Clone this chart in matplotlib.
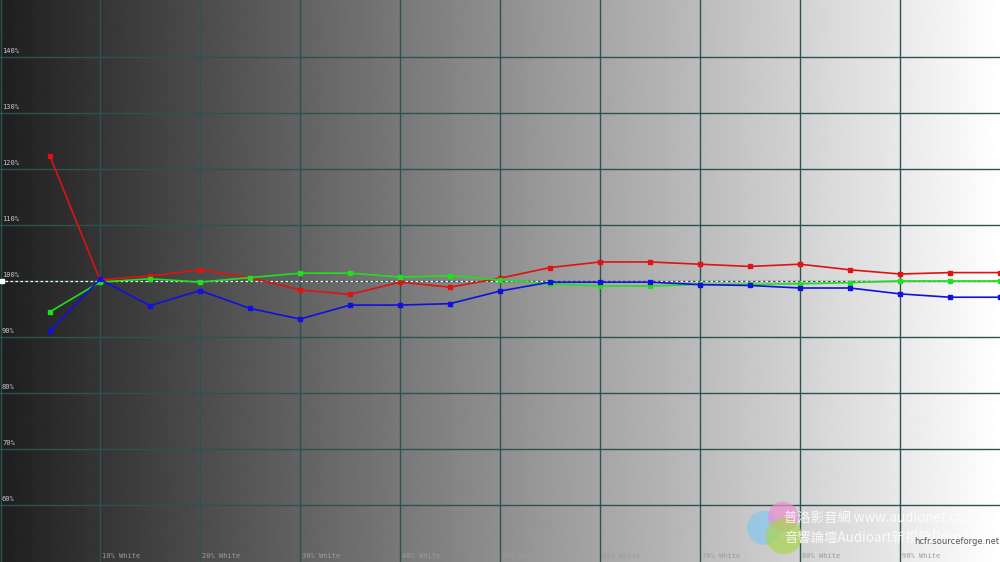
import numpy as np
import matplotlib.pyplot as plt
from matplotlib.patches import Ellipse

# grey level (% white) of each measurement
levels = [5, 10, 15, 20, 25, 30, 35, 40, 45, 50, 55, 60, 65, 70, 75, 80, 85, 90, 95, 100]

red = [122.3, 100.2, 100.9, 102.0, 100.6, 98.4, 97.6, 99.8, 98.9, 100.5,
       102.4, 103.4, 103.4, 103.0, 102.6, 103.0, 102.0, 101.25, 101.5, 101.5]
green = [94.5, 99.8, 100.4, 99.8, 100.6, 101.4, 101.4, 100.7, 100.95, 100.2,
         99.5, 99.1, 99.1, 99.4, 99.4, 99.5, 99.7, 100.0, 100.0, 100.0]
blue = [91.1, 100.3, 95.6, 98.3, 95.1, 93.2, 95.7, 95.7, 95.95, 98.2,
        99.8, 99.8, 99.8, 99.35, 99.2, 98.75, 98.75, 97.7, 97.1, 97.1]

y_ticks = [60, 70, 80, 90, 100, 110, 120, 130, 140]
x_ticks = [10, 20, 30, 40, 50, 60, 70, 80, 90]
x_labels = ['%d%% White' % v for v in x_ticks]

fig = plt.figure(figsize=(10, 5.62), dpi=100)
ax = fig.add_axes([0, 0, 1, 1])
ax.set_xlim(0, 100)
ax.set_ylim(49.8, 150.2)
ax.axis('off')

# grey ramp background
grad = np.linspace(0.12, 1.0, 1000).reshape(1, -1)
ax.imshow(grad, cmap='gray', vmin=0, vmax=1, aspect='auto',
          interpolation='bilinear', extent=[0, 100, 49.8, 150.2], zorder=0)

grid_col = '#2d5252'
for v in x_ticks:
    ax.axvline(v, color=grid_col, lw=1, zorder=1)
ax.axvline(0.1, color=grid_col, lw=1, zorder=1)
for v in y_ticks:
    ax.axhline(v, color=grid_col, lw=1, zorder=1)
ax.axhline(100, color='white', lw=0.9, ls=(0, (2, 2)), zorder=2)
ax.plot([0.15], [100], 's', color='white', ms=3, zorder=2)

mono = 'DejaVu Sans Mono'
for v in y_ticks:
    ax.text(0.2, v + 0.5, '%d%%' % v, fontsize=5, family=mono,
            color='#c8c8c8', ha='left', va='bottom', zorder=3)
for v, lab in zip(x_ticks, x_labels):
    ax.text(v + 0.2, 50.3, lab, fontsize=5, family=mono,
            color='#9c9c9c', ha='left', va='bottom', zorder=3)

ax.plot(levels, red, '-s', color='#e01212', lw=1.2, ms=3.5, zorder=4)
ax.plot(levels, green, '-s', color='#1fe01f', lw=1.2, ms=3.5, zorder=5)
ax.plot(levels, blue, '-s', color='#1010e0', lw=1.2, ms=3.5, zorder=6)

# watermark (pixel radius -> data units: 10 px / x-unit, 5.6 px / y-unit)
for cx, cy, r, c in [(76.4, 55.9, 17, '#86c6ee'), (78.3, 57.9, 15, '#ec8fd2'),
                     (78.4, 54.4, 18, '#a9d650')]:
    ax.add_patch(Ellipse((cx, cy), 2 * r / 10, 2 * r / 5.6, color=c,
                         alpha=0.7, zorder=7, lw=0))
cjk = ['Noto Sans CJK TC', 'DejaVu Sans']
ax.text(78.4, 57.7, '普洛影音網 www.audionet.com.tw', fontsize=9.6, family=cjk,
        color='white', alpha=0.85, ha='left', va='center', zorder=8)
ax.text(78.4, 54.1, '音響論壇Audioart新視聽PrimeAV', fontsize=9.6, family=cjk,
        color='white', alpha=0.85, ha='left', va='center', zorder=8)
ax.text(91.4, 53.4, 'hcfr.sourceforge.net', fontsize=6, color='#555555',
        ha='left', va='center', zorder=9)

fig.savefig('out.png', dpi=100)
